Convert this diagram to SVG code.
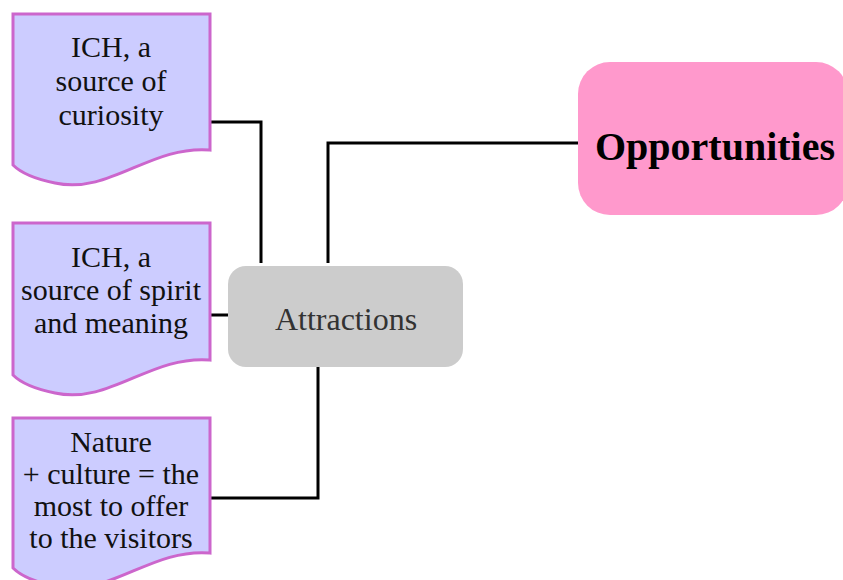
<svg xmlns="http://www.w3.org/2000/svg" width="843" height="580" viewBox="0 0 843 580">
  <style>
    .doc { fill: #ccccff; stroke: #cc66cc; stroke-width: 3; }
    .doc-text { font-family: "Liberation Serif", "Times New Roman", serif; font-size: 30px; fill: #111111; text-anchor: middle; }
    .wire { fill: none; stroke: #000000; stroke-width: 3; }
  </style>
  <rect width="843" height="580" fill="#ffffff"/>

  <g id="connectors">
    <polyline class="wire" points="210,122 261,122 261,263"/>
    <polyline class="wire" points="328,263 328,143 578,143"/>
    <line class="wire" x1="210" y1="315" x2="229" y2="315"/>
    <polyline class="wire" points="318,367 318,498 210,498"/>
  </g>

  <g id="node-curiosity">
    <path class="doc" d="M13,14 H210 V150 C150,145 110,195 55,183 C35,179 20,172 13,165 Z"/>
    <text class="doc-text" x="111" y="57">ICH, a</text>
    <text class="doc-text" x="111" y="91">source of</text>
    <text class="doc-text" x="111" y="125">curiosity</text>
  </g>

  <g id="node-spirit">
    <path class="doc" d="M13,223 H210 V360 C150,355 110,405 55,393 C35,389 20,382 13,375 Z"/>
    <text class="doc-text" x="111" y="267">ICH, a</text>
    <text class="doc-text" x="111" y="300">source of spirit</text>
    <text class="doc-text" x="111" y="333">and meaning</text>
  </g>

  <g id="node-nature">
    <path class="doc" d="M13,418 H210 V553 C150,548 110,598 55,586 C35,582 20,575 13,568 Z"/>
    <text class="doc-text" x="111" y="452">Nature</text>
    <text class="doc-text" x="111" y="484">+ culture = the</text>
    <text class="doc-text" x="111" y="516">most to offer</text>
    <text class="doc-text" x="111" y="548">to the visitors</text>
  </g>

  <g id="node-attractions">
    <rect x="228" y="266" width="235" height="101" rx="18" ry="18" fill="#cccccc"/>
    <text x="346" y="330" font-family="'Liberation Serif', 'Times New Roman', serif" font-size="32" fill="#333333" text-anchor="middle">Attractions</text>
  </g>

  <g id="node-opportunities">
    <rect x="578" y="62" width="270" height="153" rx="32" ry="32" fill="#ff99cc"/>
    <text x="715" y="160" font-family="'Liberation Serif', 'Times New Roman', serif" font-size="40" font-weight="bold" fill="#000000" text-anchor="middle">Opportunities</text>
  </g>
</svg>
